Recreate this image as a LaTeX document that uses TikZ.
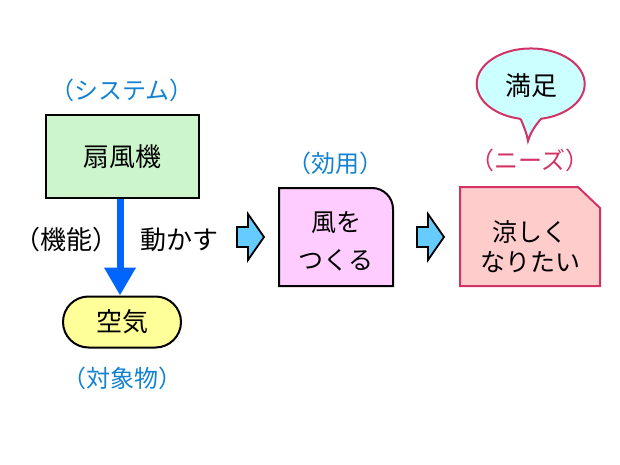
\documentclass[tikz,border=0pt]{standalone}
\usepackage{fontspec}
\setmainfont{Noto Sans CJK JP}
\usetikzlibrary{shapes.geometric,shapes.misc,arrows.meta}
\definecolor{lblue}{RGB}{20,130,210}
\definecolor{crim}{RGB}{210,50,100}
\definecolor{gfill}{RGB}{204,245,204}
\definecolor{yfill}{RGB}{255,255,153}
\definecolor{pfill}{RGB}{255,204,255}
\definecolor{rfill}{RGB}{255,204,204}
\definecolor{cfill}{RGB}{204,255,255}
\definecolor{afill}{RGB}{102,204,255}
\definecolor{arrblue}{RGB}{0,100,255}
\begin{document}
\begin{tikzpicture}[x=1pt,y=-1pt,
  txt/.style={font=\fontsize{26}{30}\selectfont, inner sep=0pt},
  lab/.style={font=\fontsize{24}{28}\selectfont, inner sep=0pt, text=lblue},
  barrow/.style={draw=black, line width=1.8pt, fill=afill, line join=miter}]
\useasboundingbox (0,0) rectangle (620,465);
% system
\node[lab] (sys) at (122,90) {（システム）};
\node[draw=black, line width=2pt, fill=gfill, minimum width=153pt, minimum height=82pt, txt] (fan) at (122,156.5) {扇風機};
\node[draw=black, line width=2pt, fill=yfill, rounded rectangle, minimum width=118pt, minimum height=51pt, txt] (air) at (122,322) {空気};
\draw[arrblue, line width=7pt, -{Triangle[width=30pt,length=28pt]}] (fan.south -| 120,0) -- (air.north -| 120,0);
\node[txt] (func) at (66,240) {（機能）};
\node[txt] (move) at (179,240) {動かす};
\node[lab] (obj) at (122,378) {（対象物）};
% block arrows
\coordinate (a1) at (250,237);
\coordinate (a2) at (430,237);
\foreach \c in {a1,a2}
  \draw[barrow] ([shift={(-13,-10)}]\c) -- ([shift={(-2,-10)}]\c) -- ([shift={(-2,-23)}]\c) -- ([shift={(14,0)}]\c)
     -- ([shift={(-2,23)}]\c) -- ([shift={(-2,10)}]\c) -- ([shift={(-13,10)}]\c) -- cycle;
% effect
\node[lab] (eff) at (335,163) {（効用）};
\draw[line width=2pt, fill=pfill] (279,188) -- (372,188) arc[start angle=-90, end angle=0, radius=21] -- (393,286) -- (279,286) -- cycle;
\node[align=center, inner sep=0pt, font=\fontsize{25}{38}\selectfont] (make) at (336,241) {風を\\つくる};
% needs
\node[lab, text=crim] (need) at (530,160) {（ニーズ）};
\draw[crim, line width=2pt, fill=rfill] (460,187) -- (578,187) -- (600,208) -- (600,286) -- (460,286) -- cycle;
\node[align=center, inner sep=0pt, font=\fontsize{25}{30}\selectfont] (cool) at (530,247) {涼しく\\なりたい};
% bubble
\draw[crim, line width=2pt, fill=cfill] (521,119.7) .. controls (524,127) and (527,134) .. (528,141) .. controls (530,134) and (534,127) .. (541,118.8)
  arc[start angle=79, end angle=-258, x radius=54, y radius=35.5] -- cycle;
\node[txt] (sat) at (531,86) {満足};
\end{tikzpicture}
\end{document}
